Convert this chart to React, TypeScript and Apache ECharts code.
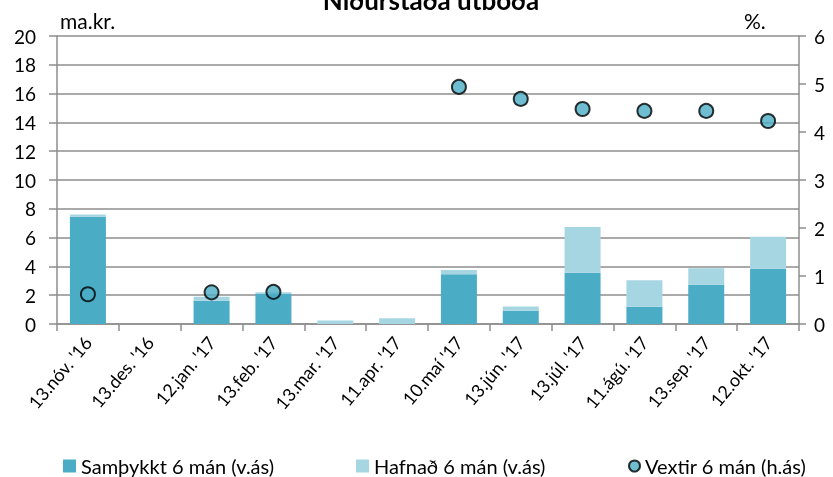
import React, { useEffect, useRef } from "react";
import * as echarts from "echarts";

const categories = [
  "13.nóv. '16",
  "13.des. '16",
  "12.jan. '17",
  "13.feb. '17",
  "13.mar. '17",
  "11.apr. '17",
  "10.maí '17",
  "13.jún. '17",
  "13.júl. '17",
  "11.ágú. '17",
  "13.sep. '17",
  "12.okt. '17",
];

const samthykkt = [7.45, 0, 1.62, 2.08, 0, 0, 3.45, 0.92, 3.56, 1.2, 2.73, 3.84];
const hafnad = [0.15, 0, 0.28, 0.12, 0.25, 0.4, 0.3, 0.3, 3.18, 1.83, 1.14, 2.22];
const vextir: (number | string)[] = [0.62, "-", 0.66, 0.67, "-", "-", 4.94, 4.69, 4.48, 4.44, 4.44, 4.23];

const FONT = "Lato";
const DARK = "#4BACC6";
const LIGHT = "#A7D6E3";
const GRID = "#8E8E8E";

export default function App() {
  const ref = useRef<HTMLDivElement>(null);

  useEffect(() => {
    if (!ref.current) return;
    const chart = echarts.init(ref.current, null, { renderer: "svg" });
    const legendText = { fontFamily: FONT, fontSize: 20, color: "#000" };
    chart.setOption({
      animation: false,
      textStyle: { fontFamily: FONT },
      grid: { left: 57, right: 34, top: 36, bottom: 153 },
      graphic: [
        {
          type: "text",
          x: 431,
          y: 13,
          style: {
            text: "Niðurstaða útboða",
            font: `bold 26px ${FONT}`,
            fill: "#000",
            textAlign: "center",
            textVerticalAlign: "bottom",
          },
        },
        {
          type: "text",
          x: 60,
          y: 20,
          style: {
            text: "ma.kr.",
            font: `21px ${FONT}`,
            fill: "#000",
            textAlign: "left",
            textVerticalAlign: "middle",
          },
        },
        {
          type: "text",
          x: 744,
          y: 20,
          style: {
            text: "%.",
            font: `21px ${FONT}`,
            fill: "#000",
            textAlign: "left",
            textVerticalAlign: "middle",
          },
        },
      ],
      legend: [
        {
          data: ["Samþykkt 6 mán (v.ás)"],
          left: 63,
          top: 456,
          width: 260,
          itemWidth: 13,
          itemHeight: 13,
          icon: "rect",
          textStyle: legendText,
          padding: 0,
        },
        {
          data: ["Hafnað 6 mán (v.ás)"],
          left: 356,
          top: 456,
          width: 240,
          itemWidth: 13,
          itemHeight: 13,
          icon: "rect",
          textStyle: legendText,
          padding: 0,
        },
        {
          data: ["Vextir 6 mán (h.ás)"],
          left: 628,
          top: 456,
          width: 200,
          itemWidth: 11,
          itemHeight: 11,
          icon: "circle",
          textStyle: legendText,
          padding: 0,
        },
      ],
      xAxis: {
        type: "category",
        data: categories,
        axisLine: { lineStyle: { color: GRID, width: 1.5 } },
        axisTick: { show: true, length: 7, lineStyle: { color: GRID, width: 1.5 } },
        axisLabel: {
          interval: 0,
          rotate: 50,
          margin: 15,
          fontFamily: FONT,
          fontSize: 18,
          color: "#000",
        },
      },
      yAxis: [
        {
          type: "value",
          min: 0,
          max: 20,
          interval: 2,
          axisLine: { show: true, lineStyle: { color: GRID, width: 1.5 } },
          axisTick: { show: true, length: 8, lineStyle: { color: GRID, width: 1.5 } },
          splitLine: { show: true, lineStyle: { color: GRID, width: 1.5 } },
          axisLabel: { margin: 21, fontFamily: FONT, fontSize: 19, color: "#000" },
        },
        {
          type: "value",
          min: 0,
          max: 6,
          interval: 1,
          position: "right",
          axisLine: { show: true, lineStyle: { color: GRID, width: 1.5 } },
          axisTick: { show: true, length: 7, lineStyle: { color: GRID, width: 1.5 } },
          splitLine: { show: false },
          axisLabel: { margin: 15, fontFamily: FONT, fontSize: 19, color: "#000" },
        },
      ],
      series: [
        {
          name: "Samþykkt 6 mán (v.ás)",
          type: "bar",
          stack: "s",
          yAxisIndex: 0,
          barWidth: 36,
          data: samthykkt,
          itemStyle: { color: DARK },
        },
        {
          name: "Hafnað 6 mán (v.ás)",
          type: "bar",
          stack: "s",
          yAxisIndex: 0,
          barWidth: 36,
          data: hafnad,
          itemStyle: { color: LIGHT },
        },
        {
          name: "Vextir 6 mán (h.ás)",
          type: "scatter",
          yAxisIndex: 1,
          symbol: "circle",
          symbolSize: 14,
          data: vextir,
          itemStyle: { color: DARK, borderColor: "#000", borderWidth: 2 },
          z: 5,
        },
      ],
    });
    return () => chart.dispose();
  }, []);

  return (
    <div
      ref={ref}
      style={{ position: "fixed", left: 0, top: 0, width: 833, height: 477 }}
    />
  );
}
